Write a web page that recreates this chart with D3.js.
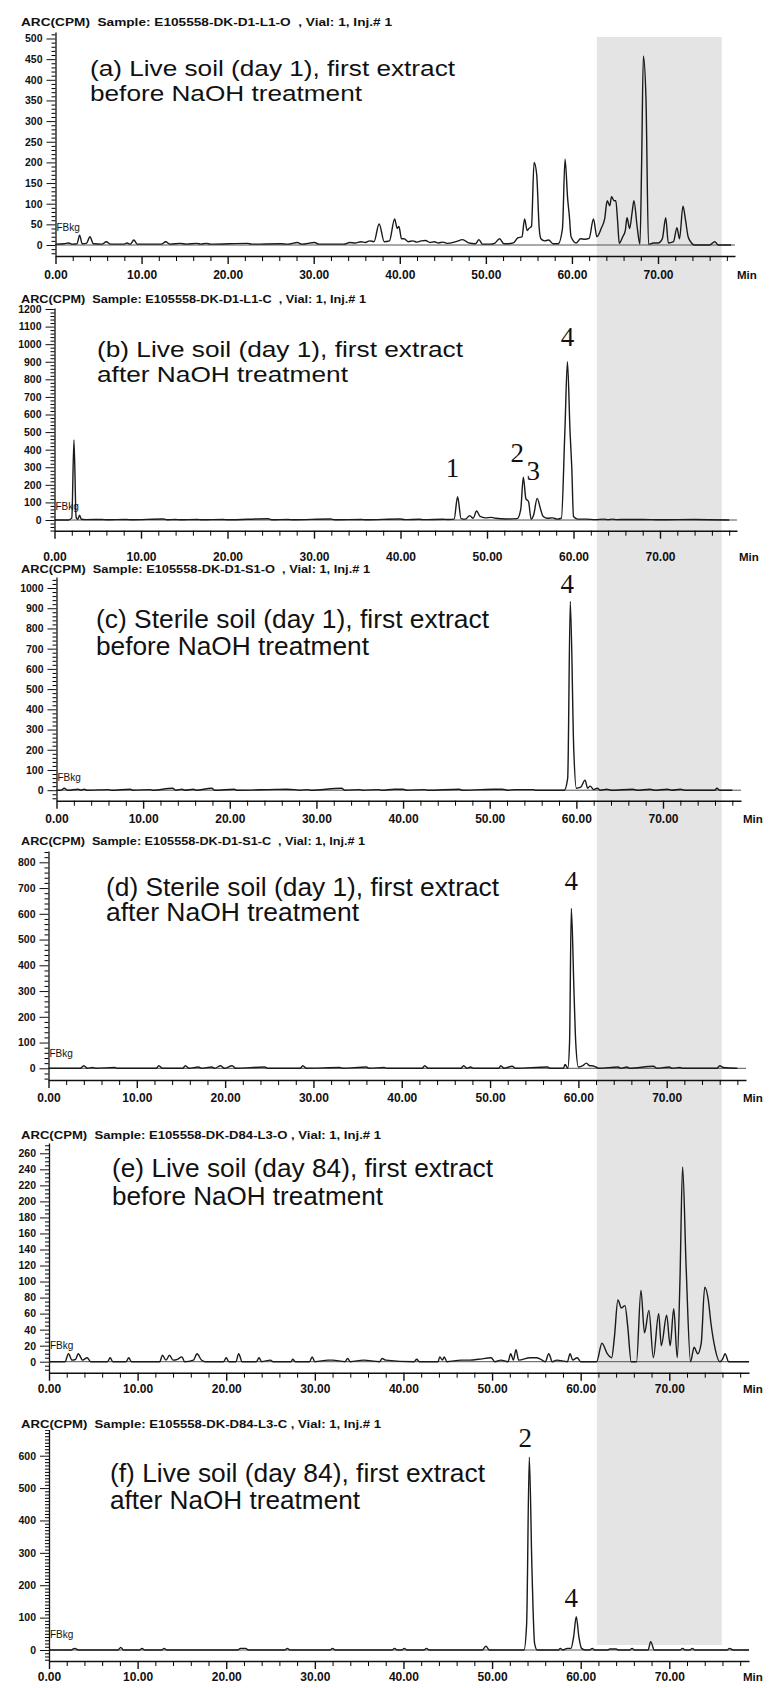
<!DOCTYPE html>
<html>
<head>
<meta charset="utf-8">
<script src="https://cdn.jsdelivr.net/npm/d3@7"></script>
<style>
  body { margin: 0; background: #fff; }
  svg { display: block; }
  .hdr { white-space: pre; }
</style>
</head>
<body>
<svg id="chart" width="770" height="1688"></svg>
<script>

// ---- data (time in min, ARC in CPM) ----
var runA = [[0,2],[1.0,3],[1.5,5],[2.0,2],[2.5,3],[2.8,24],[3.1,3],[3.6,4],[4.0,20],[4.4,3],[5.4,2],[5.9,8],[6.4,2],[8.0,2],[8.3,5],[8.7,2],[9.1,12],[9.5,2],[12.3,2],[12.8,8],[13.3,2],[14.5,4],[15.2,2],[16.4,4],[16.9,2],[17.5,4],[18.0,2],[22.3,4],[22.8,2],[26.2,3],[27.0,2],[28.1,6],[28.6,2],[30.1,6],[30.6,2],[33.5,2],[34.2,6],[34.8,5],[35.5,8],[36.0,6],[36.5,10],[37.0,8],[37.6,51],[38.2,8],[38.8,10],[39.4,63],[39.7,40],[39.9,45],[40.2,15],[40.5,15],[41.0,8],[41.5,10],[42.0,7],[42.5,10],[43.0,11],[43.5,6],[44.0,8],[44.5,5],[45.0,7],[45.5,4],[46.5,8],[47.3,13],[48.0,5],[48.8,3],[49.2,13],[49.6,2],[50.5,2],[51.0,4],[51.6,15],[52.1,3],[52.6,3],[53.2,5],[53.7,17],[54.2,20],[54.5,63],[54.8,35],[55.0,40],[55.3,45],[55.6,200],[55.9,172],[56.2,40],[56.4,15],[56.8,10],[57.3,12],[57.8,3],[58.4,3],[58.9,40],[59.2,208],[59.5,113],[59.7,70],[59.9,20],[60.5,5],[61.0,15],[61.5,14],[62.0,16],[62.5,63],[62.9,20],[63.4,40],[63.8,63],[64.1,107],[64.4,95],[64.6,117],[64.9,107],[65.1,107],[65.3,60],[65.5,4],[65.9,20],[66.2,35],[66.4,66],[66.7,40],[67.0,80],[67.2,107],[67.6,40],[67.9,2],[68.1,200],[68.3,458],[68.6,357],[68.9,2],[69.5,5],[70.0,5],[70.5,15],[70.9,66],[71.2,5],[71.8,8],[72.2,42],[72.5,15],[72.9,94],[73.2,60],[73.5,20],[73.9,5],[74.2,0],[76.0,0],[76.6,8],[77.0,0],[78.5,0]];

var runB = [[0,0],[1.6,0],[2.0,12],[2.25,455],[2.5,15],[2.7,4],[2.9,28],[3.1,4],[3.6,2],[5.5,3],[6.0,1],[8.3,3],[8.8,1],[12.6,6],[13.0,1],[14.0,3],[14.5,1],[16.5,3],[17.0,1],[19.5,3],[20.0,1],[24.7,7],[25.2,1],[27.0,3],[27.5,1],[31.9,6],[32.4,1],[35.5,3],[36.0,1],[39.9,6],[40.5,2],[42.2,4],[42.7,2],[44.9,4],[45.5,3],[46.2,5],[46.6,133],[47.0,8],[47.5,5],[48.0,25],[48.4,10],[48.8,51],[49.2,20],[49.8,12],[50.5,15],[51.0,10],[52.2,6],[53.5,8],[53.9,60],[54.2,243],[54.5,120],[54.8,105],[55.1,5],[55.4,30],[55.8,123],[56.2,60],[56.5,20],[57.0,10],[57.6,12],[58.1,5],[58.6,10],[59.0,500],[59.3,900],[59.6,502],[59.8,300],[60.0,20],[60.5,5],[61.5,5],[62.5,2],[63.5,5],[64.0,2],[64.5,5],[65.0,2],[66.0,3],[68.0,3],[70.0,1],[74.0,3],[78.0,0]];

var runC = [[0,0],[0.5,0],[0.9,10],[1.3,0],[2.5,5],[2.8,0],[3.2,5],[3.5,0],[6.0,3],[6.3,0],[8.5,5],[8.8,0],[10.8,3],[11.1,0],[13.4,10],[13.8,0],[14.5,5],[14.8,0],[15.8,5],[16.1,0],[17.9,10],[18.3,0],[20.5,5],[20.8,0],[24.5,3],[26.5,5],[27.5,3],[28.0,0],[29.0,3],[29.3,0],[32.9,10],[33.3,0],[35.0,3],[35.3,0],[37.2,3],[37.5,0],[39.0,5],[40.0,5],[40.4,0],[42.5,3],[42.8,0],[46.5,5],[46.8,0],[49.0,3],[50.5,5],[51.5,5],[52.0,0],[53.0,3],[55.0,3],[55.3,0],[58.6,0],[59.0,60],[59.3,933],[59.7,200],[60.0,10],[60.5,15],[61.0,50],[61.3,10],[61.6,20],[62.0,3],[62.4,10],[62.8,0],[63.5,5],[64.0,0],[66.5,5],[67.0,0],[68.5,5],[69.0,0],[70.5,5],[71.0,0],[72.0,5],[72.5,0],[76.0,0],[76.2,10],[76.6,0],[78.0,0]];

var runD = [[0,0],[3.6,0],[4.0,10],[4.4,0],[5.0,3],[5.3,0],[7.5,3],[7.8,0],[12.2,0],[12.5,10],[12.9,0],[15.2,0],[15.5,10],[15.9,0],[17.0,5],[17.3,0],[18.5,5],[18.8,0],[19.5,10],[19.9,0],[20.8,10],[21.2,0],[24.5,5],[24.8,0],[28.5,0],[28.8,10],[29.2,0],[33.0,3],[33.3,0],[36.0,5],[36.3,0],[38.0,3],[38.3,0],[42.3,0],[42.6,10],[43.0,0],[46.7,0],[47.0,10],[47.4,0],[47.8,5],[48.1,0],[51.0,0],[51.2,10],[51.6,0],[52.5,8],[52.9,0],[56.5,5],[56.8,0],[58.3,0],[58.5,15],[58.8,0],[59.0,100],[59.2,621],[59.5,300],[59.7,100],[60.0,5],[60.5,10],[60.9,20],[61.3,10],[61.5,10],[62.0,5],[62.3,0],[64.5,5],[64.8,0],[65.5,5],[65.8,0],[68.5,8],[68.9,0],[70.3,5],[70.6,0],[71.5,3],[71.8,0],[75.7,0],[76.0,10],[76.4,3],[78.0,0]];

var runE = [[0,0],[1.8,0],[2.2,10],[2.6,2],[3.0,3],[3.3,10],[3.8,2],[4.3,5],[4.7,0],[6.6,0],[6.9,5],[7.2,0],[8.7,0],[9.0,5],[9.3,0],[12.5,0],[12.8,8],[13.2,2],[13.6,8],[14.0,2],[14.5,3],[15.0,6],[15.3,0],[16.3,2],[16.7,10],[17.2,2],[17.6,0],[19.7,0],[20.0,5],[20.3,0],[21.1,0],[21.4,10],[21.8,0],[23.4,0],[23.7,5],[24.0,0],[25.0,2],[25.3,0],[27.3,0],[27.5,3],[27.8,0],[29.4,0],[29.7,6],[30.0,0],[31.5,2],[32.0,2],[33.4,0],[33.7,4],[34.0,0],[35.5,2],[37.3,0],[37.6,4],[38.0,2],[41.2,0],[41.5,3],[41.8,0],[43.9,0],[44.1,6],[44.4,2],[44.6,6],[44.9,0],[46.5,2],[47.5,2],[48.5,3],[49.9,5],[50.3,0],[51.0,2],[51.8,0],[52.1,10],[52.4,2],[52.7,15],[53.0,2],[54.3,5],[55.0,5],[55.5,3],[56.0,0],[56.4,10],[56.8,0],[57.3,2],[58.5,0],[58.8,10],[59.1,2],[59.6,5],[60.0,0],[61.8,0],[62.4,23],[63.0,10],[63.5,5],[63.8,30],[64.2,77],[64.6,67],[65.0,70],[65.3,45],[65.7,0],[66.3,0],[66.8,89],[67.2,36],[67.7,64],[68.2,5],[68.8,60],[69.1,20],[69.7,58],[70.1,20],[70.5,66],[70.9,5],[71.2,100],[71.5,243],[71.9,118],[72.4,0],[72.8,18],[73.2,10],[73.6,23],[74.0,93],[74.4,77],[74.7,48],[75.1,20],[75.7,0],[76.0,3],[76.3,10],[76.7,0],[79,0]];

var runF = [[0,0],[2.5,0],[2.9,5],[3.3,0],[7.8,0],[8.1,8],[8.4,0],[10.2,0],[10.5,5],[10.8,0],[12.7,0],[13.0,5],[13.3,0],[21.3,0],[21.6,5],[22.2,5],[22.5,0],[26.6,0],[26.9,5],[27.2,0],[31.7,0],[32.0,5],[32.3,0],[38.7,0],[39.0,5],[39.3,0],[39.8,0],[40.1,5],[40.4,0],[42.3,0],[42.6,5],[42.9,0],[48.9,0],[49.3,12],[49.7,0],[53.6,0],[53.9,80],[54.2,595],[54.5,250],[54.8,20],[55.1,0],[57.5,0],[57.7,5],[58.0,0],[58.5,5],[58.9,5],[59.2,40],[59.5,103],[59.8,40],[60.1,5],[60.5,0],[61.0,0],[61.3,5],[61.6,0],[63.0,0],[63.3,3],[64.0,3],[64.3,0],[65.5,0],[65.8,5],[66.1,0],[67.6,0],[67.9,26],[68.3,0],[71.2,0],[71.5,5],[71.8,0],[72.3,0],[72.6,5],[72.9,0],[76.5,0],[76.8,5],[77.2,0],[79,0]];

var runs = [runA, runB, runC, runD, runE, runF];

var sampleIds = ["E105558-DK-D1-L1-O  ", "E105558-DK-D1-L1-C  ", "E105558-DK-D1-S1-O  ",
                 "E105558-DK-D1-S1-C  ", "E105558-DK-D84-L3-O ", "E105558-DK-D84-L3-C "];
var titleLine1 = ["(a) Live soil (day 1), first extract", "(b) Live soil (day 1), first extract",
                  "(c) Sterile soil (day 1), first extract", "(d) Sterile soil (day 1), first extract",
                  "(e) Live soil (day 84), first extract", "(f) Live soil (day 84), first extract"];
var titleLine2 = ["before NaOH treatment", "after NaOH treatment", "before NaOH treatment",
                  "after NaOH treatment", "before NaOH treatment", "after NaOH treatment"];

// y tick labels (max, major step, minor step) for each run
var yMax   = [500, 1200, 1000, 800, 260, 600];
var yStep  = [50, 100, 100, 100, 20, 100];
var yMinor = [10, 20, 20, 20, 5, 10];
var xTicks = [0, 10, 20, 30, 40, 50, 60, 70];

// numbered peaks: run index, label, retention time
var peakNames = [[1, "1", 46.6], [1, "2", 54.2], [1, "3", 55.8], [1, "4", 59.3],
                 [2, "4", 59.3], [3, "4", 59.2], [5, "2", 54.2], [5, "4", 59.5]];

// shaded retention window (min, read on run a)
var shadeWindow = [62.9, 77.4];

// ---- layout (pixels) ----
var layout = [
  {x0: 55.5, x70: 658,   xEnd: 735, y0: 245,    yRefPx: 38.5,  yTopPx: 32,   axisY: 256,   labY: 279,  hdrY: 26,   hdrW: 371, tX: 90,  t1Y: 76,   t2Y: 101,  t1W: 365, t2W: 272, fs: 22, fb: 14},
  {x0: 54.5, x70: 660,   xEnd: 737, y0: 520,    yRefPx: 309,   yTopPx: 308,  axisY: 530.7, labY: 561,  hdrY: 303,  hdrW: 345, tX: 97,  t1Y: 357,  t2Y: 382,  t1W: 366, t2W: 251, fs: 22, fb: 10},
  {x0: 56.5, x70: 663,   xEnd: 741, y0: 790.2,  yRefPx: 588,   yTopPx: 577,  axisY: 800.7, labY: 823,  hdrY: 573,  hdrW: 349, tX: 96,  t1Y: 628,  t2Y: 655,  t1W: 393, t2W: 273, fs: 25, fb: 9},
  {x0: 48.5, x70: 666.7, xEnd: 746, y0: 1068.3, yRefPx: 862.3, yTopPx: 851,  axisY: 1080,  labY: 1102, hdrY: 845,  hdrW: 344, tX: 106, t1Y: 896,  t2Y: 921,  t1W: 393, t2W: 253, fs: 25, fb: 11},
  {x0: 49,   x70: 669.3, xEnd: 749, y0: 1361.7, yRefPx: 1153.3,yTopPx: 1143, axisY: 1372.7,labY: 1393, hdrY: 1139, hdrW: 360, tX: 112, t1Y: 1177, t2Y: 1205, t1W: 381, t2W: 271, fs: 25, fb: 13},
  {x0: 49,   x70: 669.3, xEnd: 749, y0: 1650,   yRefPx: 1455.7,yTopPx: 1428, axisY: 1661,  labY: 1681, hdrY: 1428, hdrW: 360, tX: 110, t1Y: 1482, t2Y: 1509, t1W: 375, t2W: 250, fs: 25, fb: 12}
];
var refVal = [500, 1200, 1000, 800, 260, 600];
// offsets of the peak numbers from the apex
var peakNameOffset = [[-5, -20], [-6, -15], [-4, -18], [0, -16], [-3, -9], [0, -18], [-4, -10], [-5, -10]];

var sans = "'Liberation Sans', Arial, Helvetica, sans-serif";
var serif = "'Liberation Serif', 'Times New Roman', serif";

var svg = d3.select("#chart");
svg.append("rect").attr("width", 770).attr("height", 1688).attr("fill", "#fff");

var scales = layout.map(function(L, i) {
  var x = d3.scaleLinear().domain([0, 70]).range([L.x0, L.x70]);
  var y = d3.scaleLinear().domain([0, refVal[i]]).range([L.y0, L.yRefPx]);
  return {x: x, y: y};
});

// shaded window spans every run
var sx = scales[0].x;
svg.append("rect")
  .attr("x", sx(shadeWindow[0]))
  .attr("y", 37)
  .attr("width", sx(shadeWindow[1]) - sx(shadeWindow[0]))
  .attr("height", 1645 - 37)
  .attr("fill", "#e4e4e4");

function drawRun(i) {
  var L = layout[i], x = scales[i].x, y = scales[i].y;
  var g = svg.append("g").attr("class", "run run" + i);
  var xEndMin = x.invert(L.xEnd);

  // zero line
  g.append("line")
    .attr("x1", L.x0).attr("x2", L.xEnd)
    .attr("y1", y(0)).attr("y2", y(0))
    .attr("stroke", "#555").attr("stroke-width", 1);

  // x axis, major + minor
  var xa = d3.scaleLinear().domain([0, xEndMin]).range([L.x0, L.xEnd]);
  var minorX = d3.range(0, xEndMin, 2).filter(function(d) { return d % 10 !== 0; });
  g.append("g").attr("transform", "translate(0," + L.axisY + ")")
    .call(d3.axisBottom(xa).tickValues(minorX).tickSize(5).tickSizeOuter(0).tickFormat(""))
    .call(function(s) { s.select(".domain").attr("stroke-width", 1.6).attr("stroke", "#111"); });
  var xg = g.append("g").attr("transform", "translate(0," + L.axisY + ")")
    .call(d3.axisBottom(xa).tickValues(xTicks).tickSize(8).tickSizeOuter(0).tickFormat(d3.format(".2f")));
  xg.select(".domain").remove();
  xg.selectAll(".tick line").attr("stroke", "#111").attr("stroke-width", 1.4);
  xg.selectAll("text")
    .attr("y", null).attr("dy", null)
    .attr("transform", "translate(0," + (L.labY - L.axisY) + ")")
    .attr("font-family", sans).attr("font-size", 12).attr("font-weight", "bold")
    .attr("fill", "#111");
  g.append("text")
    .attr("x", Math.min(L.xEnd + 2, 743)).attr("y", L.labY)
    .attr("font-family", sans).attr("font-size", 11.5).attr("font-weight", "bold").attr("fill", "#111")
    .text("Min");

  // y axis
  var yBottom = y.invert(L.axisY), yTop = y.invert(L.yTopPx);
  var ya = d3.scaleLinear().domain([yBottom, yTop]).range([L.axisY, L.yTopPx]);
  var minorY = d3.range(Math.ceil(yBottom / yMinor[i]) * yMinor[i], yTop, yMinor[i])
    .filter(function(d) { return d % yStep[i] !== 0 || d < 0 || d > yMax[i]; });
  var majorY = d3.range(0, yMax[i] + 1, yStep[i]);
  g.append("g").attr("transform", "translate(" + L.x0 + ",0)")
    .call(d3.axisLeft(ya).tickValues(minorY).tickSize(4).tickSizeOuter(0).tickFormat(""))
    .call(function(s) { s.select(".domain").attr("stroke", "#111").attr("stroke-width", 1.3); });
  var yg = g.append("g").attr("transform", "translate(" + L.x0 + ",0)")
    .call(d3.axisLeft(ya).tickValues(majorY).tickSize(9).tickSizeOuter(0).tickPadding(4).tickFormat(d3.format("d")));
  yg.select(".domain").remove();
  yg.selectAll(".tick line").attr("stroke", "#111");
  yg.selectAll("text").attr("font-family", sans).attr("font-size", 10.5).attr("font-weight", "bold").attr("fill", "#111");

  // trace
  var line = d3.line()
    .x(function(d) { return x(d[0]); })
    .y(function(d) { return y(d[1]); })
    .curve(d3.curveMonotoneX);
  g.append("path").datum(runs[i])
    .attr("d", line)
    .attr("fill", "none").attr("stroke", "#1a1a1a").attr("stroke-width", 1.4)
    .attr("stroke-linejoin", "round");

  // FBkg marker
  g.append("text")
    .attr("x", L.x0 + 1).attr("y", y(0) - L.fb)
    .attr("font-family", sans).attr("font-size", 10).attr("fill", "#111")
    .text("FBkg");

  // header with white backing
  var hdr = "ARC(CPM)  Sample: " + sampleIds[i] + ", Vial: 1, Inj.# 1";
  g.append("rect").attr("x", 18).attr("y", L.hdrY - 9).attr("width", L.hdrW + 6).attr("height", 11).attr("fill", "#fff");
  g.append("text").attr("class", "hdr")
    .attr("x", 21).attr("y", L.hdrY)
    .attr("font-family", sans).attr("font-size", 10).attr("font-weight", "bold").attr("fill", "#111")
    .attr("textLength", L.hdrW).attr("lengthAdjust", "spacingAndGlyphs")
    .text(hdr);

  // panel title
  [[titleLine1[i], L.t1Y, L.t1W], [titleLine2[i], L.t2Y, L.t2W]].forEach(function(t) {
    g.append("text")
      .attr("x", L.tX).attr("y", t[1])
      .attr("font-family", sans).attr("font-size", L.fs).attr("fill", "#111")
      .attr("textLength", t[2]).attr("lengthAdjust", "spacingAndGlyphs")
      .text(t[0]);
  });
}

for (var i = 0; i < runs.length; i++) drawRun(i);

// numbered peaks
peakNames.forEach(function(p, k) {
  var i = p[0], x = scales[i].x, y = scales[i].y;
  var apex = d3.max(runs[i].filter(function(d) { return Math.abs(d[0] - p[2]) < 0.35; }), function(d) { return d[1]; });
  svg.append("text")
    .attr("x", x(p[2]) + peakNameOffset[k][0])
    .attr("y", y(apex) + peakNameOffset[k][1])
    .attr("text-anchor", "middle")
    .attr("font-family", serif).attr("font-size", 27).attr("fill", "#111")
    .text(p[1]);
});
</script>
</body>
</html>
